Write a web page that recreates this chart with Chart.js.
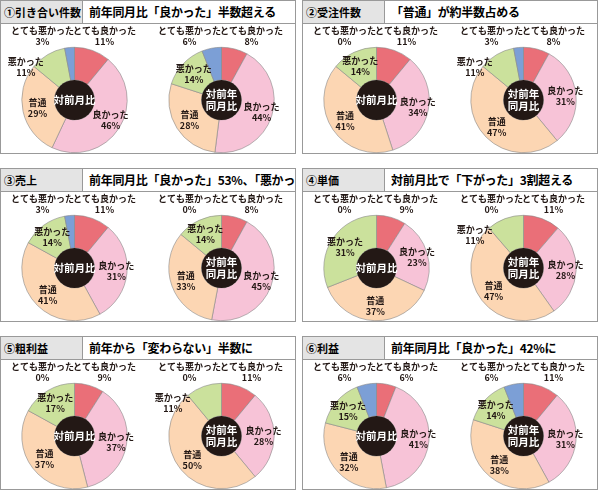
<!DOCTYPE html>
<html><head><meta charset="utf-8">
<script src="https://cdn.jsdelivr.net/npm/chart.js@4"></script>
<style>
body{margin:0;width:600px;height:499px;background:#fff;font-family:"Noto Sans CJK JP",sans-serif;position:relative;overflow:hidden}
.panel{position:absolute;width:296px;height:154px;border:1px solid #999;box-sizing:border-box;background:#fff}
.hdr{position:absolute;left:0;top:0;right:0;height:22px;border-bottom:1px solid #999;display:flex}
.lab{width:82px;flex:none;background:#e4e4e4;border-right:1px solid #999;font-size:11px;font-weight:bold;line-height:22px;padding-left:3px;box-sizing:border-box;white-space:nowrap}
.ttl{flex:1;font-size:12px;font-weight:bold;line-height:22px;padding-left:6px;white-space:nowrap;letter-spacing:-0.3px;overflow:hidden}
canvas{position:absolute}
</style></head><body>
<script>
const categories=["とても良かった","良かった","普通","悪かった","とても悪かった"];
const panelLabels=["①引き合い件数","②受注件数","③売上","④単価","⑤粗利益","⑥利益"];
const panelTitles=["前年同月比「良かった」半数超える","「普通」が約半数占める","前年同月比「良かった」53%、「悪かった」14%","対前月比で「下がった」3割超える","前年から「変わらない」半数に","前年同月比「良かった」42%に"];
const centerLabels=[["対前月比"],["対前年","同月比"]];
const monthValues=[[11,46,29,11,3],[11,34,41,14,0],[11,31,41,14,3],[9,23,37,31,0],[9,37,37,17,0],[6,41,32,15,6]];
const yearValues=[[8,44,28,14,6],[8,31,47,11,3],[8,45,33,14,0],[11,28,47,11,0],[11,28,50,11,0],[11,31,38,14,6]];
const colors=["#ea6f78","#f7c3d7","#fcd6b3","#cbe19c","#7c9fd6"];

const labelPlugin={id:'lbl',afterDatasetsDraw(chart){
  const ctx=chart.ctx;const meta=chart.getDatasetMeta(0);const vals=chart.data.datasets[0].data;
  const a0=meta.data[0];const cx=a0.x,cy=a0.y,r=a0.outerRadius,ir=a0.innerRadius;
  ctx.save();
  ctx.beginPath();ctx.arc(cx,cy,ir,0,Math.PI*2);ctx.fillStyle="#231815";ctx.fill();
  const cl=chart.options.plugins.lbl.center;
  ctx.fillStyle="#fff";ctx.font="bold 10.5px 'Noto Sans CJK JP'";ctx.textAlign="center";ctx.textBaseline="middle";
  cl.forEach((t,i)=>ctx.fillText(t,cx,cy+(i-(cl.length-1)/2)*12));
  ctx.font="bold 9px 'Noto Sans CJK JP'";ctx.fillStyle="#231815";
  meta.data.forEach((arc,i)=>{
    const v=vals[i];let x,y;
    if(i===0){x=cx+30;y=cy-r-11;}
    else if(i===4){x=cx-32;y=cy-r-11;}
    else if(i===3&&v<13){x=cx-r+4;y=cy-r+20;}
    else{
      const m=(arc.startAngle+arc.endAngle)/2;
      const rr=r*0.72;
      x=cx+Math.cos(m)*rr;y=cy+Math.sin(m)*rr;
      if(i===1)x+=4;
    }
    ctx.fillText(categories[i],x,y-5.5);ctx.fillText(v+"%",x,y+5.5);
  });
  ctx.restore();
}};

const lefts=[0,302],tops=[0,168,336];
for(let p=0;p<6;p++){
  const d=document.createElement('div');d.className='panel';
  d.style.left=lefts[p%2]+'px';d.style.top=tops[Math.floor(p/2)]+'px';
  d.innerHTML=`<div class="hdr"><div class="lab">${panelLabels[p]}</div><div class="ttl">${panelTitles[p]}</div></div>`;
  document.body.appendChild(d);
  [monthValues[p],yearValues[p]].forEach((vals,k)=>{
    const c=document.createElement('canvas');
    c.style.left=(k*147)+'px';c.style.top='22px';c.style.width='147px';c.style.height='130px';
    c.width=147;c.height=130;d.appendChild(c);
    new Chart(c,{type:'doughnut',plugins:[labelPlugin],
      data:{labels:categories,datasets:[{data:vals,backgroundColor:colors,borderColor:'#888',borderWidth:0.6}]},
      options:{responsive:false,animation:false,cutout:'38%',
        layout:{padding:{top:24,bottom:0}},
        plugins:{legend:{display:false},tooltip:{enabled:false},lbl:{center:centerLabels[k]}}}});
  });
}
</script>
</body></html>
